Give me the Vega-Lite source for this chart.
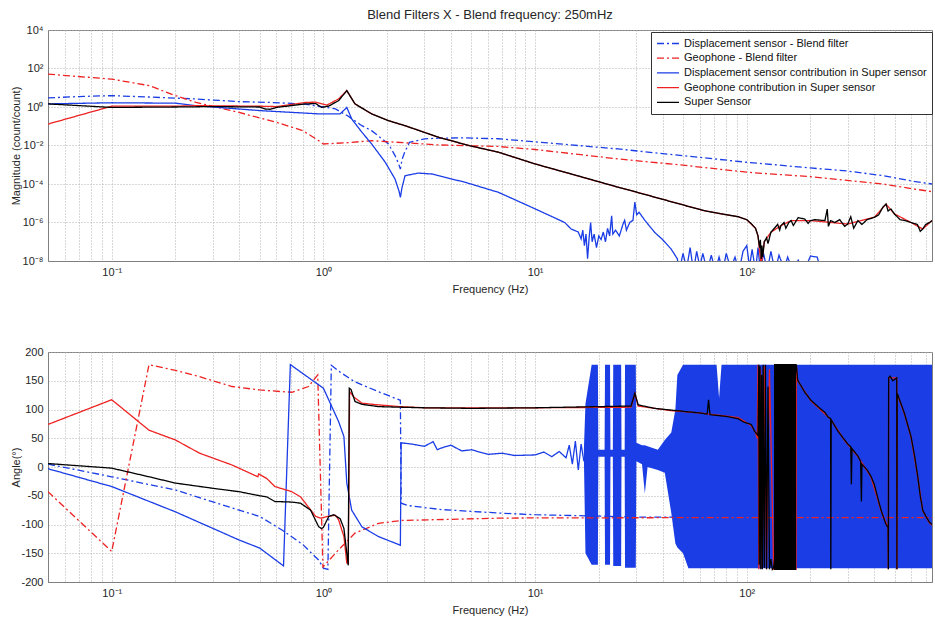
{
  "$schema": "https://vega.github.io/schema/vega-lite/v6.json",
  "background": "white",
  "padding": {"left": 9, "top": 8, "right": 0, "bottom": 0},
  "bounds": "flush",
  "spacing": 91,
  "resolve": {"scale": {"color": "independent", "strokeDash": "independent"}},
  "config": {
    "font": "Liberation Sans",
    "view": {"stroke": "#7f7f7f", "strokeWidth": 1},
    "axis": {
      "labelFont": "Liberation Sans", "labelFontSize": 11, "labelColor": "#262626",
      "titleFont": "Liberation Sans", "titleFontSize": 11, "titleFontWeight": "normal", "titleColor": "#262626",
      "grid": true, "gridColor": "#b0b0b0", "gridDash": [1, 2], "gridWidth": 1, "gridOpacity": 1,
      "domainColor": "#7f7f7f", "ticks": false, "tickSize": 0, "labelOverlap": false, "labelFlush": false
    },
    "title": {"font": "Liberation Sans", "fontSize": 13, "fontWeight": "normal", "color": "#262626"}
  },
  "datasets": {
    "mag": [
      {"s":"a","f":0.05,"v":2.95},{"s":"a","f":0.07,"v":3.5},{"s":"a","f":0.1,"v":3.9},{"s":"a","f":0.15,"v":3.3},{"s":"a","f":0.25,"v":2.6},{"s":"a","f":0.4,"v":1.9},{"s":"a","f":0.55,"v":1.74},{"s":"a","f":0.8,"v":1.45},{"s":"a","f":0.92,"v":1.17},{"s":"a","f":1.14,"v":0.79},{"s":"a","f":1.3,"v":0.35},{"s":"a","f":1.52,"v":0.107},{"s":"a","f":1.69,"v":0.059},{"s":"a","f":2.03,"v":0.012},{"s":"a","f":2.18,"v":0.003},{"s":"a","f":2.26,"v":0.0012},{"s":"a","f":2.31,"v":0.0006},{"s":"a","f":2.35,"v":0.0018},{"s":"a","f":2.42,"v":0.0044},{"s":"a","f":2.55,"v":0.0145},{"s":"a","f":3.0,"v":0.022},{"s":"a","f":3.5,"v":0.024},{"s":"a","f":4.5,"v":0.025},{"s":"a","f":6.7,"v":0.0224},{"s":"a","f":10,"v":0.0155},{"s":"a","f":24.7,"v":0.0066},{"s":"a","f":50,"v":0.00295},{"s":"a","f":100,"v":0.00135},{"s":"a","f":200,"v":0.00068},{"s":"a","f":300,"v":0.00047},{"s":"a","f":440,"v":0.00027},{"s":"a","f":610,"v":0.00014},{"s":"a","f":750,"v":0.0001},
      {"s":"b","f":0.05,"v":51},{"s":"b","f":0.1,"v":28},{"s":"b","f":0.15,"v":13},{"s":"b","f":0.2,"v":3.9},{"s":"b","f":0.25,"v":1.74},{"s":"b","f":0.4,"v":0.52},{"s":"b","f":0.6,"v":0.16},{"s":"b","f":0.8,"v":0.059},{"s":"b","f":0.95,"v":0.0178},{"s":"b","f":1.0,"v":0.012},{"s":"b","f":1.3,"v":0.014},{"s":"b","f":1.69,"v":0.0178},{"s":"b","f":3.5,"v":0.0107},{"s":"b","f":6.7,"v":0.0089},{"s":"b","f":10,"v":0.0062},{"s":"b","f":24.7,"v":0.002},{"s":"b","f":50,"v":0.00095},{"s":"b","f":100,"v":0.00041},{"s":"b","f":200,"v":0.00024},{"s":"b","f":440,"v":0.0001},{"s":"b","f":610,"v":0.000056},{"s":"b","f":750,"v":0.00004},
      {"s":"c","f":0.05,"v":1.45},{"s":"c","f":0.1,"v":1.66},{"s":"c","f":0.2,"v":1.58},{"s":"c","f":0.25,"v":1.17},{"s":"c","f":0.5,"v":0.65},{"s":"c","f":0.95,"v":0.44},{"s":"c","f":1.2,"v":0.44},{"s":"c","f":1.29,"v":0.95},{"s":"c","f":1.36,"v":0.24},{"s":"c","f":1.52,"v":0.049},{"s":"c","f":1.69,"v":0.012},{"s":"c","f":1.96,"v":0.00135},{"s":"c","f":2.18,"v":0.00018},{"s":"c","f":2.28,"v":0.00004},{"s":"c","f":2.31,"v":0.00002},{"s":"c","f":2.35,"v":0.000063},{"s":"c","f":2.43,"v":0.00027},{"s":"c","f":2.81,"v":0.00037},{"s":"c","f":3.25,"v":0.00033},{"s":"c","f":3.49,"v":0.00027},{"s":"c","f":4.67,"v":0.000123},{"s":"c","f":6.71,"v":0.000037},{"s":"c","f":9.63,"v":6.2e-6},{"s":"c","f":13.8,"v":1e-6},{"s":"c","f":14.8,"v":4.6e-7},{"s":"c","f":16,"v":3.2e-7},{"s":"c","f":16.5,"v":1.4e-7},{"s":"c","f":16.8,"v":4e-7},{"s":"c","f":17.1,"v":6.3e-8},{"s":"c","f":17.4,"v":2.5e-7},{"s":"c","f":17.7,"v":1.3e-8},{"s":"c","f":18.0,"v":1.6e-7},{"s":"c","f":18.3,"v":1e-6},{"s":"c","f":18.6,"v":1e-7},{"s":"c","f":19.0,"v":2.5e-7},{"s":"c","f":19.5,"v":5e-8},{"s":"c","f":20,"v":2e-7},{"s":"c","f":20.5,"v":1.3e-7},{"s":"c","f":21,"v":3.2e-7},{"s":"c","f":21.5,"v":1e-7},{"s":"c","f":22,"v":5e-7},{"s":"c","f":22.5,"v":2e-7},{"s":"c","f":23,"v":2.2e-6},{"s":"c","f":23.3,"v":2.5e-7},{"s":"c","f":24,"v":4e-7},{"s":"c","f":25,"v":2e-7},{"s":"c","f":26,"v":8e-7},{"s":"c","f":26.5,"v":1.3e-6},{"s":"c","f":27,"v":4e-7},{"s":"c","f":28,"v":1e-6},{"s":"c","f":29,"v":1.3e-6},{"s":"c","f":29.6,"v":1.15e-5},{"s":"c","f":30.2,"v":2.5e-6},{"s":"c","f":31,"v":3.4e-6},{"s":"c","f":33,"v":1.3e-6},{"s":"c","f":36.7,"v":3.1e-7},{"s":"c","f":40,"v":1.3e-7},{"s":"c","f":43.9,"v":4.2e-8},{"s":"c","f":47,"v":1.3e-8},{"s":"c","f":48,"v":3e-9},{"s":"c","f":50,"v":2.5e-8},{"s":"c","f":52,"v":4e-9},{"s":"c","f":54,"v":5e-8},{"s":"c","f":56,"v":3e-9},{"s":"c","f":58,"v":3.2e-8},{"s":"c","f":60,"v":5e-9},{"s":"c","f":62,"v":2.5e-8},{"s":"c","f":65,"v":3e-9},{"s":"c","f":68,"v":2e-8},{"s":"c","f":71,"v":3e-9},{"s":"c","f":74,"v":1.6e-8},{"s":"c","f":77,"v":3e-9},{"s":"c","f":80,"v":2.5e-8},{"s":"c","f":84,"v":4e-9},{"s":"c","f":88,"v":1.6e-8},{"s":"c","f":92,"v":3e-9},{"s":"c","f":96,"v":3.2e-8},{"s":"c","f":100,"v":6.3e-8},{"s":"c","f":103,"v":5e-9},{"s":"c","f":106,"v":4e-8},{"s":"c","f":110,"v":3e-9},{"s":"c","f":113,"v":5e-8},{"s":"c","f":116,"v":3e-9},{"s":"c","f":120,"v":2.5e-8},{"s":"c","f":125,"v":3e-9},{"s":"c","f":130,"v":3.2e-8},{"s":"c","f":136,"v":3e-9},{"s":"c","f":142,"v":2e-8},{"s":"c","f":150,"v":4e-9},{"s":"c","f":156,"v":1.6e-8},{"s":"c","f":165,"v":3e-9},{"s":"c","f":175,"v":1.1e-8},{"s":"c","f":185,"v":2.5e-9},{"s":"c","f":200,"v":1.8e-8},{"s":"c","f":215,"v":1.6e-8},{"s":"c","f":225,"v":3e-9},{"s":"c","f":235,"v":6e-9},{"s":"c","f":250,"v":1e-9},{"s":"c","f":750,"v":1e-10},
      {"s":"d","f":0.05,"v":0.13},{"s":"d","f":0.1,"v":1.1},{"s":"d","f":0.2,"v":1.1},{"s":"d","f":0.25,"v":1.17},{"s":"d","f":0.5,"v":1.1},{"s":"d","f":0.6,"v":1.05},{"s":"d","f":0.83,"v":1.74},{"s":"d","f":0.92,"v":1.78},{"s":"d","f":1.04,"v":1.26},{"s":"d","f":1.18,"v":2.63},{"s":"d","f":1.29,"v":7.08},{"s":"d","f":1.41,"v":1.45},{"s":"d","f":1.69,"v":0.44},{"s":"d","f":2.03,"v":0.195},{"s":"d","f":2.43,"v":0.107},{"s":"d","f":3.49,"v":0.027},{"s":"d","f":4.9,"v":0.0098},{"s":"d","f":6.71,"v":0.0045},{"s":"d","f":10,"v":0.0011},{"s":"d","f":24.7,"v":0.000068},{"s":"d","f":29.6,"v":0.00004},{"s":"d","f":63,"v":4.1e-6},{"s":"d","f":76,"v":2.8e-6},{"s":"d","f":91,"v":2e-6},{"s":"d","f":100,"v":1.4e-6},{"s":"d","f":110,"v":5e-7},{"s":"d","f":113,"v":2e-7},{"s":"d","f":117,"v":6e-9},{"s":"d","f":121,"v":1e-7},{"s":"d","f":130,"v":3.1e-7},{"s":"d","f":145,"v":6.9e-7},{"s":"d","f":162,"v":1.26e-6},{"s":"d","f":200,"v":1.26e-6},{"s":"d","f":300,"v":8.3e-7},{"s":"d","f":401,"v":1.9e-6},{"s":"d","f":455,"v":9e-6},{"s":"d","f":498,"v":2.8e-6},{"s":"d","f":597,"v":1e-6},{"s":"d","f":678,"v":4.6e-7},{"s":"d","f":750,"v":1.26e-6},
      {"s":"e","f":0.05,"v":1.45},{"s":"e","f":0.1,"v":0.95},{"s":"e","f":0.2,"v":1.0},{"s":"e","f":0.3,"v":1.05},{"s":"e","f":0.5,"v":1.0},{"s":"e","f":0.53,"v":0.79},{"s":"e","f":0.56,"v":0.76},{"s":"e","f":0.6,"v":0.95},{"s":"e","f":0.7,"v":1.17},{"s":"e","f":0.82,"v":1.45},{"s":"e","f":0.92,"v":1.5},{"s":"e","f":0.98,"v":0.95},{"s":"e","f":1.06,"v":1.12},{"s":"e","f":1.18,"v":2.14},{"s":"e","f":1.29,"v":7.08},{"s":"e","f":1.41,"v":1.45},{"s":"e","f":1.69,"v":0.44},{"s":"e","f":2.03,"v":0.195},{"s":"e","f":2.43,"v":0.107},{"s":"e","f":3.49,"v":0.027},{"s":"e","f":4.9,"v":0.0098},{"s":"e","f":6.71,"v":0.0045},{"s":"e","f":10,"v":0.0011},{"s":"e","f":15,"v":0.00032},{"s":"e","f":24.7,"v":0.000068},{"s":"e","f":29.6,"v":0.00004},{"s":"e","f":40,"v":0.000016},{"s":"e","f":63,"v":4.1e-6},{"s":"e","f":76,"v":2.8e-6},{"s":"e","f":91,"v":2e-6},{"s":"e","f":100,"v":1.4e-6},{"s":"e","f":106,"v":7.9e-7},{"s":"e","f":110,"v":5e-7},{"s":"e","f":113,"v":2e-7},{"s":"e","f":115,"v":5e-8},{"s":"e","f":116,"v":1.26e-7},{"s":"e","f":117,"v":1.26e-8},{"s":"e","f":118,"v":6.3e-8},{"s":"e","f":119,"v":1.6e-8},{"s":"e","f":121,"v":1e-7},{"s":"e","f":124,"v":1.6e-7},{"s":"e","f":126,"v":8e-8},{"s":"e","f":130,"v":3.1e-7},{"s":"e","f":135,"v":5e-7},{"s":"e","f":140,"v":8e-7},{"s":"e","f":143,"v":4e-7},{"s":"e","f":145,"v":6.9e-7},{"s":"e","f":150,"v":1e-6},{"s":"e","f":153,"v":5e-7},{"s":"e","f":158,"v":1e-6},{"s":"e","f":162,"v":1.26e-6},{"s":"e","f":166,"v":7e-7},{"s":"e","f":175,"v":1.8e-6},{"s":"e","f":188,"v":1.5e-6},{"s":"e","f":195,"v":9e-7},{"s":"e","f":200,"v":1.26e-6},{"s":"e","f":210,"v":1.4e-6},{"s":"e","f":234,"v":1.26e-6},{"s":"e","f":240,"v":5e-6},{"s":"e","f":243,"v":6.3e-7},{"s":"e","f":249,"v":1.26e-6},{"s":"e","f":260,"v":1e-6},{"s":"e","f":275,"v":1.4e-6},{"s":"e","f":290,"v":6.3e-7},{"s":"e","f":300,"v":8.3e-7},{"s":"e","f":310,"v":2e-6},{"s":"e","f":320,"v":5e-7},{"s":"e","f":335,"v":1.26e-6},{"s":"e","f":350,"v":7.9e-7},{"s":"e","f":370,"v":1.4e-6},{"s":"e","f":401,"v":1.86e-6},{"s":"e","f":420,"v":2.5e-6},{"s":"e","f":440,"v":6.3e-6},{"s":"e","f":455,"v":9.1e-6},{"s":"e","f":465,"v":4e-6},{"s":"e","f":480,"v":5e-6},{"s":"e","f":498,"v":2.8e-6},{"s":"e","f":530,"v":1.4e-6},{"s":"e","f":560,"v":1.26e-6},{"s":"e","f":597,"v":1e-6},{"s":"e","f":640,"v":7.9e-7},{"s":"e","f":660,"v":3.5e-7},{"s":"e","f":678,"v":4.6e-7},{"s":"e","f":700,"v":7.9e-7},{"s":"e","f":730,"v":1e-6},{"s":"e","f":750,"v":1.26e-6}
    ],
    "ang": [
      {"s":"a","f":0.05,"v":5},{"s":"a","f":0.1,"v":-17},{"s":"a","f":0.2,"v":-40},{"s":"a","f":0.4,"v":-75},{"s":"a","f":0.5,"v":-86},{"s":"a","f":0.64,"v":-110},{"s":"a","f":0.8,"v":-135},{"s":"a","f":0.95,"v":-162},{"s":"a","f":1.0,"v":-176},{"s":"a","f":1.05,"v":-178},{"s":"a","f":1.09,"v":177},{"s":"a","f":1.2,"v":165},{"s":"a","f":1.41,"v":148},{"s":"a","f":1.82,"v":131},{"s":"a","f":2.31,"v":116},{"s":"a","f":2.33,"v":-63},{"s":"a","f":2.5,"v":-67},{"s":"a","f":3.6,"v":-74},{"s":"a","f":6.7,"v":-80},{"s":"a","f":10,"v":-83},{"s":"a","f":17.8,"v":-85},{"s":"a","f":30,"v":-87},{"s":"a","f":100,"v":-88},{"s":"a","f":750,"v":-88},
      {"s":"b","f":0.05,"v":-43},{"s":"b","f":0.1,"v":-147},{"s":"b","f":0.15,"v":178},{"s":"b","f":0.2,"v":168},{"s":"b","f":0.26,"v":157},{"s":"b","f":0.37,"v":140},{"s":"b","f":0.5,"v":134},{"s":"b","f":0.64,"v":131},{"s":"b","f":0.71,"v":130},{"s":"b","f":0.85,"v":140},{"s":"b","f":0.94,"v":160},{"s":"b","f":0.995,"v":-175},{"s":"b","f":1.0,"v":-173},{"s":"b","f":1.18,"v":-144},{"s":"b","f":1.41,"v":-115},{"s":"b","f":1.82,"v":-98},{"s":"b","f":2.35,"v":-93},{"s":"b","f":6.71,"v":-89},{"s":"b","f":10,"v":-88.5},{"s":"b","f":100,"v":-88},{"s":"b","f":750,"v":-88},
      {"s":"c","f":0.05,"v":-3},{"s":"c","f":0.1,"v":-34},{"s":"c","f":0.2,"v":-78},{"s":"c","f":0.4,"v":-127},{"s":"c","f":0.5,"v":-141},{"s":"c","f":0.648,"v":-172},{"s":"c","f":0.698,"v":178},{"s":"c","f":1.0,"v":137},{"s":"c","f":1.18,"v":79},{"s":"c","f":1.25,"v":53},{"s":"c","f":1.29,"v":-28},{"s":"c","f":1.36,"v":-75},{"s":"c","f":1.52,"v":-104},{"s":"c","f":1.82,"v":-121},{"s":"c","f":2.31,"v":-136},{"s":"c","f":2.33,"v":42},{"s":"c","f":2.6,"v":40},{"s":"c","f":3.0,"v":36},{"s":"c","f":3.3,"v":44},{"s":"c","f":3.45,"v":30},{"s":"c","f":3.6,"v":33},{"s":"c","f":4,"v":38},{"s":"c","f":4.5,"v":28},{"s":"c","f":5,"v":30},{"s":"c","f":6,"v":22},{"s":"c","f":7,"v":24},{"s":"c","f":8,"v":20},{"s":"c","f":10,"v":21},{"s":"c","f":11,"v":26},{"s":"c","f":12,"v":18},{"s":"c","f":13,"v":27},{"s":"c","f":14,"v":16},{"s":"c","f":14.5,"v":38},{"s":"c","f":15,"v":5},{"s":"c","f":15.5,"v":45},{"s":"c","f":16,"v":-5},{"s":"c","f":16.5,"v":40},{"s":"c","f":17,"v":10},
      {"s":"d","f":0.05,"v":74},{"s":"d","f":0.1,"v":117},{"s":"d","f":0.15,"v":64},{"s":"d","f":0.2,"v":47},{"s":"d","f":0.26,"v":24},{"s":"d","f":0.37,"v":3.5},{"s":"d","f":0.49,"v":-17},{"s":"d","f":0.495,"v":-12},{"s":"d","f":0.54,"v":-20},{"s":"d","f":0.59,"v":-34},{"s":"d","f":0.71,"v":-43},{"s":"d","f":0.78,"v":-52},{"s":"d","f":0.92,"v":-86},{"s":"d","f":0.97,"v":-89},{"s":"d","f":1.04,"v":-86},{"s":"d","f":1.14,"v":-84},{"s":"d","f":1.18,"v":-92},{"s":"d","f":1.25,"v":-121},{"s":"d","f":1.29,"v":-167},{"s":"d","f":1.31,"v":-168},{"s":"d","f":1.33,"v":131},{"s":"d","f":1.39,"v":122},{"s":"d","f":1.52,"v":111},{"s":"d","f":1.82,"v":108},{"s":"d","f":2.3,"v":105},{"s":"d","f":3,"v":103},{"s":"d","f":10,"v":103},{"s":"d","f":28.4,"v":104},{"s":"d","f":29.6,"v":128},{"s":"d","f":30.7,"v":106},{"s":"d","f":43.9,"v":98},{"s":"d","f":60,"v":94},{"s":"d","f":91,"v":86},{"s":"d","f":105,"v":72},{"s":"d","f":110,"v":60},{"s":"d","f":112,"v":50},{"s":"d","f":113,"v":178},{"s":"d","f":114,"v":-178},{"s":"d","f":116,"v":170},{"s":"d","f":118,"v":-175},{"s":"d","f":121,"v":175},{"s":"d","f":124,"v":-178},{"s":"d","f":128,"v":170},{"s":"d","f":134,"v":-178},{"s":"d","f":171,"v":-178},{"s":"d","f":171.5,"v":178},{"s":"d","f":174,"v":150},{"s":"d","f":201,"v":115},{"s":"d","f":249,"v":83},{"s":"d","f":290,"v":46},{"s":"d","f":335,"v":18},{"s":"d","f":386,"v":-17},{"s":"d","f":431,"v":-76},{"s":"d","f":465,"v":-106},{"s":"d","f":466.5,"v":-178},{"s":"d","f":468,"v":155},{"s":"d","f":511,"v":155},{"s":"d","f":512,"v":-178},{"s":"d","f":514,"v":127},{"s":"d","f":556,"v":92},{"s":"d","f":597,"v":52},{"s":"d","f":642,"v":-17},{"s":"d","f":678,"v":-76},{"s":"d","f":729,"v":-97},{"s":"d","f":750,"v":-101},
      {"s":"e","f":0.05,"v":6},{"s":"e","f":0.1,"v":-2},{"s":"e","f":0.15,"v":-17},{"s":"e","f":0.2,"v":-28},{"s":"e","f":0.3,"v":-37},{"s":"e","f":0.4,"v":-43},{"s":"e","f":0.5,"v":-50},{"s":"e","f":0.54,"v":-52},{"s":"e","f":0.59,"v":-60},{"s":"e","f":0.71,"v":-61},{"s":"e","f":0.78,"v":-63},{"s":"e","f":0.87,"v":-75},{"s":"e","f":0.95,"v":-104},{"s":"e","f":0.98,"v":-107},{"s":"e","f":1.0,"v":-105},{"s":"e","f":1.06,"v":-86},{"s":"e","f":1.12,"v":-83},{"s":"e","f":1.2,"v":-90},{"s":"e","f":1.25,"v":-107},{"s":"e","f":1.29,"v":-150},{"s":"e","f":1.31,"v":-171},{"s":"e","f":1.325,"v":137},{"s":"e","f":1.35,"v":135},{"s":"e","f":1.41,"v":114},{"s":"e","f":1.52,"v":109},{"s":"e","f":1.82,"v":105},{"s":"e","f":2.3,"v":104},{"s":"e","f":3,"v":103},{"s":"e","f":5,"v":102},{"s":"e","f":10,"v":103},{"s":"e","f":20,"v":105},{"s":"e","f":28.4,"v":106},{"s":"e","f":29.6,"v":128},{"s":"e","f":30.7,"v":108},{"s":"e","f":36.7,"v":102},{"s":"e","f":43.9,"v":99},{"s":"e","f":52.6,"v":96},{"s":"e","f":60,"v":94},{"s":"e","f":65,"v":92},{"s":"e","f":66,"v":117},{"s":"e","f":67,"v":91},{"s":"e","f":80,"v":88},{"s":"e","f":91,"v":84},{"s":"e","f":97,"v":78},{"s":"e","f":105,"v":74},{"s":"e","f":109,"v":62},{"s":"e","f":113,"v":55},{"s":"e","f":114,"v":178},{"s":"e","f":114.5,"v":-170},{"s":"e","f":115.5,"v":175},{"s":"e","f":116.5,"v":-178},{"s":"e","f":117.5,"v":160},{"s":"e","f":118.5,"v":-178},{"s":"e","f":119.5,"v":178},{"s":"e","f":121,"v":-175},{"s":"e","f":122.5,"v":178},{"s":"e","f":124,"v":-178},{"s":"e","f":126,"v":140},{"s":"e","f":128,"v":-178},{"s":"e","f":130,"v":-160},{"s":"e","f":132,"v":-178},{"s":"e","f":134,"v":-175},{"s":"e","f":171.5,"v":178},{"s":"e","f":174,"v":151},{"s":"e","f":188,"v":130},{"s":"e","f":201,"v":116},{"s":"e","f":220,"v":103},{"s":"e","f":234,"v":95},{"s":"e","f":242,"v":87},{"s":"e","f":249,"v":84},{"s":"e","f":249.5,"v":-178},{"s":"e","f":250.5,"v":82},{"s":"e","f":270,"v":62},{"s":"e","f":290,"v":47},{"s":"e","f":300,"v":40},{"s":"e","f":310,"v":35},{"s":"e","f":312,"v":-30},{"s":"e","f":314,"v":32},{"s":"e","f":335,"v":19},{"s":"e","f":345,"v":10},{"s":"e","f":348,"v":-60},{"s":"e","f":350,"v":5},{"s":"e","f":370,"v":-5},{"s":"e","f":386,"v":-16},{"s":"e","f":400,"v":-30},{"s":"e","f":410,"v":-45},{"s":"e","f":420,"v":-60},{"s":"e","f":431,"v":-75},{"s":"e","f":440,"v":-85},{"s":"e","f":455,"v":-100},{"s":"e","f":465,"v":-105},{"s":"e","f":466.5,"v":-178},{"s":"e","f":468,"v":155},{"s":"e","f":475,"v":158},{"s":"e","f":490,"v":150},{"s":"e","f":511,"v":155},{"s":"e","f":512,"v":-178},{"s":"e","f":514,"v":128},{"s":"e","f":556,"v":93},{"s":"e","f":597,"v":53},{"s":"e","f":620,"v":20},{"s":"e","f":642,"v":-16},{"s":"e","f":660,"v":-50},{"s":"e","f":678,"v":-75},{"s":"e","f":700,"v":-85},{"s":"e","f":729,"v":-96},{"s":"e","f":750,"v":-100}
    ],
    "bandB": [
      {"f":17.0,"lo":18,"hi":30},{"f":17.3,"lo":-150,"hi":110},{"f":18.5,"lo":-170,"hi":178},{"f":19.8,"lo":-170,"hi":178},{"f":19.9,"lo":18,"hi":30},{"f":21.3,"lo":18,"hi":30},{"f":21.4,"lo":-170,"hi":178},{"f":22.6,"lo":-170,"hi":178},{"f":22.7,"lo":18,"hi":30},{"f":23.3,"lo":18,"hi":30},{"f":23.4,"lo":-172,"hi":178},{"f":25.5,"lo":-172,"hi":178},{"f":25.6,"lo":18,"hi":30},{"f":26.5,"lo":18,"hi":30},{"f":26.6,"lo":-175,"hi":178},{"f":29.9,"lo":-175,"hi":178},{"f":30.1,"lo":10,"hi":42},{"f":32,"lo":5,"hi":38},{"f":33,"lo":-46,"hi":38},{"f":34,"lo":0,"hi":36},{"f":38,"lo":-5,"hi":30},{"f":41,"lo":-10,"hi":47},{"f":44,"lo":-80,"hi":60},{"f":46,"lo":-133,"hi":100},{"f":47,"lo":-140,"hi":160},{"f":50,"lo":-150,"hi":178},{"f":53,"lo":-176,"hi":178},{"f":72,"lo":-176,"hi":178},{"f":74,"lo":-176,"hi":120},{"f":76,"lo":-176,"hi":178},{"f":750,"lo":-176,"hi":178}
    ],
    "bandK": [
      {"f":134.5,"lo":-179,"hi":179},{"f":171,"lo":-179,"hi":179}
    ]
  },
  "vconcat": [
    {
      "width": 884,
      "height": 231,
      "title": {"text": "Blend Filters X - Blend frequency: 250mHz", "anchor": "middle", "frame": "group", "offset": 2},
      "data": {"name": "mag"},
      "mark": {"type": "line", "strokeWidth": 1.3, "clip": true},
      "encoding": {
        "x": {"field": "f", "type": "quantitative", "scale": {"type": "log", "domain": [0.05, 750], "nice": false},
          "axis": {"title": "Frequency (Hz)", "values": [0.05,0.06,0.07,0.08,0.09,0.1,0.2,0.3,0.4,0.5,0.6,0.7,0.8,0.9,1,2,3,4,5,6,7,8,9,10,20,30,40,50,60,70,80,90,100,200,300,400,500,600,700],
            "labelExpr": "datum.value == 0.1 ? '10⁻¹' : datum.value == 1 ? '10⁰' : datum.value == 10 ? '10¹' : datum.value == 100 ? '10²' : ''",
            "labelPadding": 5, "titlePadding": 6}},
        "y": {"field": "v", "type": "quantitative", "scale": {"type": "log", "domain": [1e-8, 10000], "nice": false},
          "axis": {"title": "Magnitude (count/count)", "values": [1e-8, 1e-6, 0.0001, 0.01, 1, 100, 10000],
            "labelExpr": "datum.value < 1e-7 ? '10⁻⁸' : datum.value < 1e-5 ? '10⁻⁶' : datum.value < 0.001 ? '10⁻⁴' : datum.value < 0.1 ? '10⁻²' : datum.value < 10 ? '10⁰' : datum.value < 1000 ? '10²' : '10⁴'",
            "labelPadding": 5, "titleX": -32, "titleY": 115.5, "titleAngle": -90, "titleAlign": "center", "titleBaseline": "middle"}},
        "color": {"field": "s", "type": "nominal",
          "scale": {"domain": ["a","b","c","d","e"], "range": ["#1a3de6","#ee2222","#1a3de6","#ee2222","#000000"]},
          "legend": {"title": null, "orient": "none", "legendX": 603, "legendY": 2, "fillColor": "white", "strokeColor": "#333333", "padding": 5,
            "symbolType": "stroke", "symbolSize": 484, "symbolStrokeWidth": 1.3, "clipHeight": 13, "rowPadding": 1.7, "labelFont": "Liberation Sans", "labelFontSize": 11, "labelColor": "#111111", "labelLimit": 400,
            "labelExpr": "datum.value == 'a' ? 'Displacement sensor - Blend filter' : datum.value == 'b' ? 'Geophone - Blend filter' : datum.value == 'c' ? 'Displacement sensor contribution in Super sensor' : datum.value == 'd' ? 'Geophone contribution in Super sensor' : 'Super Sensor'"}},
        "strokeDash": {"field": "s", "type": "nominal",
          "scale": {"domain": ["a","b","c","d","e"], "range": [[7,3,2,3],[7,3,2,3],[1,0],[1,0],[1,0]]},
          "legend": {"title": null, "orient": "none", "legendX": 603, "legendY": 2, "fillColor": "white", "strokeColor": "#333333", "padding": 5,
            "symbolType": "stroke", "symbolSize": 484, "symbolStrokeWidth": 1.3, "clipHeight": 13, "rowPadding": 1.7, "labelFont": "Liberation Sans", "labelFontSize": 11, "labelColor": "#111111", "labelLimit": 400,
            "labelExpr": "datum.value == 'a' ? 'Displacement sensor - Blend filter' : datum.value == 'b' ? 'Geophone - Blend filter' : datum.value == 'c' ? 'Displacement sensor contribution in Super sensor' : datum.value == 'd' ? 'Geophone contribution in Super sensor' : 'Super Sensor'"}}
      }
    },
    {
      "width": 884,
      "height": 230,
      "encoding": {
        "x": {"field": "f", "type": "quantitative", "scale": {"type": "log", "domain": [0.05, 750], "nice": false},
          "axis": {"title": "Frequency (Hz)", "values": [0.05,0.06,0.07,0.08,0.09,0.1,0.2,0.3,0.4,0.5,0.6,0.7,0.8,0.9,1,2,3,4,5,6,7,8,9,10,20,30,40,50,60,70,80,90,100,200,300,400,500,600,700],
            "labelExpr": "datum.value == 0.1 ? '10⁻¹' : datum.value == 1 ? '10⁰' : datum.value == 10 ? '10¹' : datum.value == 100 ? '10²' : ''",
            "labelPadding": 5, "titlePadding": 6}}
      },
      "layer": [
        {
          "data": {"name": "bandB"},
          "mark": {"type": "area", "color": "#1a3de6", "opacity": 1, "clip": true},
          "encoding": {
            "y": {"field": "lo", "type": "quantitative", "scale": {"domain": [-200, 200], "nice": false},
              "axis": {"title": "Angle(°)", "values": [-200,-150,-100,-50,0,50,100,150,200], "labelExpr": "'' + datum.value",
                "labelPadding": 5, "titleX": -32, "titleY": 115, "titleAngle": -90, "titleAlign": "center", "titleBaseline": "middle"}},
            "y2": {"field": "hi"}
          }
        },
        {
          "data": {"name": "ang"},
          "mark": {"type": "line", "strokeWidth": 1.3, "clip": true},
          "encoding": {
            "y": {"field": "v", "type": "quantitative", "scale": {"domain": [-200, 200], "nice": false},
              "axis": {"title": "Angle(°)", "values": [-200,-150,-100,-50,0,50,100,150,200], "labelExpr": "'' + datum.value",
                "labelPadding": 5, "titleX": -32, "titleY": 115, "titleAngle": -90, "titleAlign": "center", "titleBaseline": "middle"}},
            "color": {"field": "s", "type": "nominal",
              "scale": {"domain": ["a","b","c","d","e"], "range": ["#1a3de6","#ee2222","#1a3de6","#ee2222","#000000"]}, "legend": null},
            "strokeDash": {"field": "s", "type": "nominal",
              "scale": {"domain": ["a","b","c","d","e"], "range": [[7,3,2,3],[7,3,2,3],[1,0],[1,0],[1,0]]}, "legend": null}
          }
        },
        {
          "data": {"name": "bandK"},
          "mark": {"type": "area", "color": "#000000", "opacity": 1, "clip": true},
          "encoding": {
            "y": {"field": "lo", "type": "quantitative", "scale": {"domain": [-200, 200], "nice": false},
              "axis": {"title": "Angle(°)", "values": [-200,-150,-100,-50,0,50,100,150,200], "labelExpr": "'' + datum.value",
                "labelPadding": 5, "titleX": -32, "titleY": 115, "titleAngle": -90, "titleAlign": "center", "titleBaseline": "middle"}},
            "y2": {"field": "hi"}
          }
        }
      ]
    }
  ]
}
